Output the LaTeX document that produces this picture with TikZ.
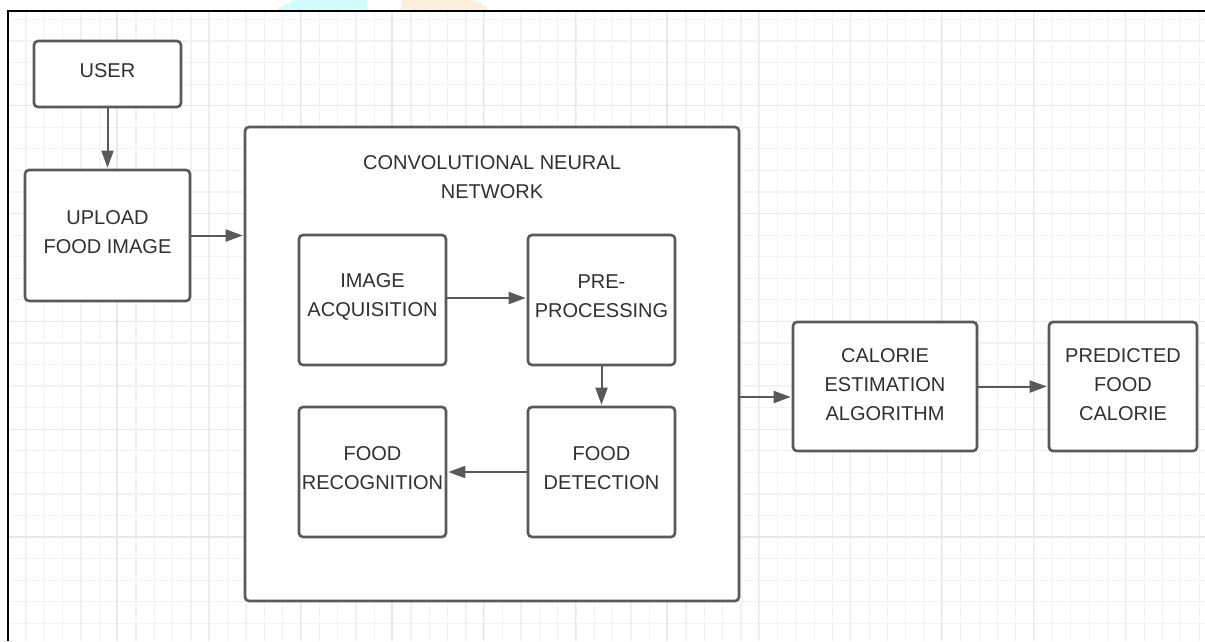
\documentclass[tikz,border=0pt]{standalone}
\usepackage{fontspec}
\setmainfont{Liberation Sans}
\usetikzlibrary{arrows.meta}
\definecolor{edge}{HTML}{595959}
\definecolor{ink}{HTML}{303030}
\definecolor{gridminor}{HTML}{F2F2F2}
\definecolor{gridmajor}{HTML}{E8E8E8}
\definecolor{wmcyan}{HTML}{D2FCFC}
\definecolor{wmorange}{HTML}{FEEEDD}

\begin{document}
\begin{tikzpicture}[x=1pt, y=-1pt,
  box/.style={draw=edge, line width=2.6pt, fill=white, rounded corners=4pt, inner sep=0pt},
  lbl/.style={text=ink, font=\fontsize{20}{28.8}\selectfont, align=center, inner sep=0pt},
  flow/.style={draw=edge, line width=2pt, shorten >=1pt, -{Triangle[length=17pt, width=12pt]}}]

\useasboundingbox (0,0) rectangle (1205,641);
\fill[white] (0,0) rectangle (1205,641);

% faint drawing-canvas grid
\foreach \i in {1,...,65}
  \draw[gridminor, line width=1.2pt] ({7.7+18.33*\i},11) -- ({7.7+18.33*\i},641);
\foreach \j in {0,...,28}
  \draw[gridminor, line width=1.2pt] (8,{19.4+21.57*\j}) -- (1205,{19.4+21.57*\j});
\foreach \k in {0,...,11}
  \draw[gridmajor, line width=1.2pt] ({117+91.65*\k},11) -- ({117+91.65*\k},641);
\foreach \k in {0,...,4}
  \draw[gridmajor, line width=1.2pt] (8,{537-107.9*\k}) -- (1205,{537-107.9*\k});

% coloured shapes peeking above the frame
\fill[wmcyan] (278,11) -- (278,7) -- (284,7) -- (284,4) -- (290,4) -- (290,1) -- (296,0)
  -- (367,0) -- (367,11) -- cycle;
\fill[wmorange] (401,11) -- (401,0) -- (473,0) -- (473,1) -- (478,1) -- (478,3) -- (482,3)
  -- (482,6) -- (487,6) -- (487,11) -- cycle;

% page frame (top and left edges)
\coordinate (frameTL) at (8,11);
\coordinate (frameTR) at (1205,11);
\coordinate (frameBL) at (8,641);
\draw[black, line width=2.2pt] (frameTR) -- (frameTL) -- (frameBL);

% boxes
\node[box, minimum width=147pt, minimum height=66pt]  (user)   at (107.5,74)  {};
\node[box, minimum width=165pt, minimum height=131pt] (upload) at (107.5,235.5) {};
\node[box, minimum width=494pt, minimum height=474pt] (cnn)    at (492,364) {};
\node[box, minimum width=147pt, minimum height=130pt] (acq)    at (372.5,300) {};
\node[box, minimum width=147pt, minimum height=130pt] (pre)    at (601.5,300) {};
\node[box, minimum width=147pt, minimum height=130pt] (rec)    at (372.5,472) {};
\node[box, minimum width=147pt, minimum height=130pt] (det)    at (601.5,472) {};
\node[box, minimum width=184pt, minimum height=129pt] (cal)    at (885,386.5) {};
\node[box, minimum width=148pt, minimum height=129pt] (pred)   at (1123,386.5) {};

% labels
\node[lbl] (userT)   at ([yshift=3.5pt]user.center)   {USER};
\node[lbl] (uploadT) at ([yshift=3pt]upload.center)   {UPLOAD\\FOOD IMAGE};
\node[lbl] (cnnT)    at (492,177.5)                   {CONVOLUTIONAL NEURAL\\NETWORK};
\node[lbl] (acqT)    at ([yshift=3.5pt]acq.center)    {IMAGE\\ACQUISITION};
\node[lbl] (preT)    at ([yshift=3.5pt]pre.center)    {PRE-\\PROCESSING};
\node[lbl] (recT)    at ([yshift=3.5pt]rec.center)    {FOOD\\RECOGNITION};
\node[lbl] (detT)    at ([yshift=3.5pt]det.center)    {FOOD\\DETECTION};
\node[lbl] (calT)    at ([yshift=2pt]cal.center)      {CALORIE\\ESTIMATION\\ALGORITHM};
\node[lbl] (predT)   at ([yshift=2pt]pred.center)     {PREDICTED\\FOOD\\CALORIE};

% connectors
\draw[flow] (user.south) -- (upload.north);
\draw[flow] (upload.east) -- (cnn.west |- upload.east);
\draw[flow] ([yshift=2pt]acq.east) -- ([yshift=2pt]pre.west);
\draw[flow] (pre.south) -- (det.north);
\draw[flow] (det.west) -- (rec.east);
\path (cal.west) ++(0,10.5) coordinate (calin);
\draw[flow] (cnn.east |- calin) -- (calin);
\draw[flow] (cal.east) -- (pred.west);
\end{tikzpicture}
\end{document}
